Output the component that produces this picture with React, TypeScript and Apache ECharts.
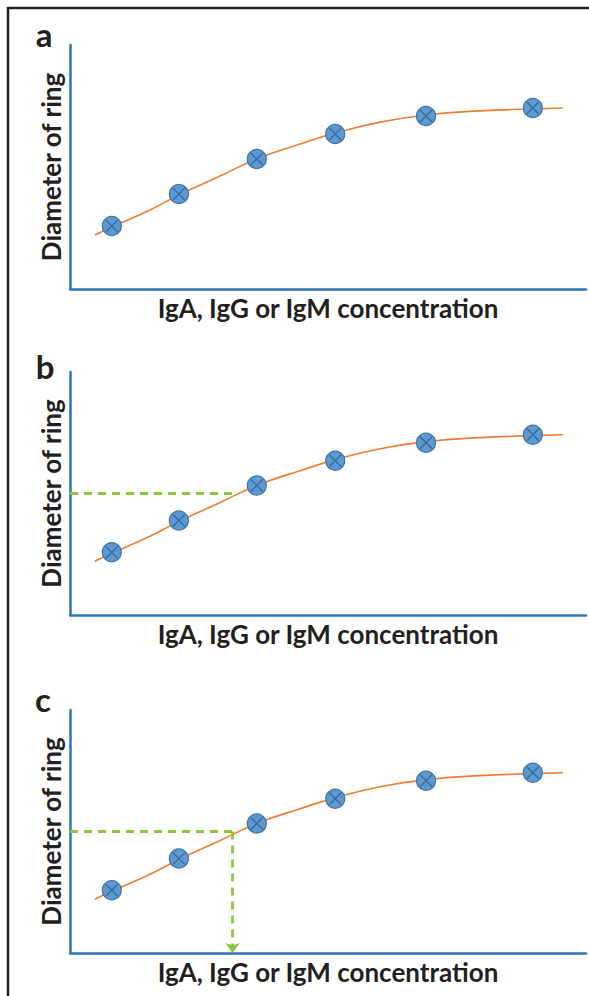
import React, { useEffect, useRef } from "react";
import * as echarts from "echarts";

// Measured points (x: concentration, y: ring diameter), arbitrary units 0-100
const markX = [8.1, 21.1, 36.2, 51.4, 69.0, 89.7];
const markY = [25.8, 38.9, 53.3, 63.5, 70.9, 74.2];

// Fitted standard curve
const curveX = [4.8, 8.1, 15.5, 21.1, 29.1, 36.2, 44.6, 51.4, 60.1, 69.0, 79.5, 89.7, 95.5];
const curveY = [22.1, 25.4, 32.4, 38.5, 46.3, 53.3, 59.4, 63.9, 68.4, 71.3, 73.0, 73.8, 74.2];

// Unknown sample reading
const guideLevel = 50;
const guideX = 31.5;

const panelLetters = ["a", "b", "c"];
const xTitle = "IgA, IgG or IgM concentration";
const yTitle = "Diameter of ring";

const FONT = "Lato, 'Open Sans', sans-serif";
const AXIS_BLUE = "#2E75B6";
const GREEN = "#8CC63F";

export default function App() {
  const ref = useRef<HTMLDivElement>(null);
  useEffect(() => {
    if (!ref.current) return;
    const chart = echarts.init(ref.current, null, { renderer: "svg" });
    const grids = [
      { left: 70, top: 45, width: 516, height: 244 },
      { left: 70, top: 372, width: 516, height: 243 },
      { left: 70, top: 710, width: 516, height: 243 },
    ];
    const xAxes = grids.map((_, i) => ({
      type: "value",
      gridIndex: i,
      min: 0,
      max: 100,
      name: xTitle,
      nameLocation: "middle",
      nameGap: 6,
      nameTextStyle: { fontFamily: FONT, fontWeight: "bold", fontSize: 26, color: "#231F20", verticalAlign: "top" },
      axisLine: { show: true, lineStyle: { color: AXIS_BLUE, width: 2.5 } },
      axisTick: { show: false },
      axisLabel: { show: false },
      splitLine: { show: false },
    }));
    const yAxes = grids.map((_, i) => ({
      type: "value",
      gridIndex: i,
      min: 0,
      max: 100,
      name: yTitle,
      nameLocation: "middle",
      nameGap: 6,
      nameTextStyle: { fontFamily: FONT, fontWeight: "bold", fontSize: 26, color: "#231F20", verticalAlign: "bottom" },
      axisLine: { show: true, lineStyle: { color: AXIS_BLUE, width: 2.5 } },
      axisTick: { show: false },
      axisLabel: { show: false },
      splitLine: { show: false },
    }));
    const curveData = curveX.map((x, i) => [x, curveY[i]]);
    const markData = markX.map((x, i) => [x, markY[i]]);
    const series: any[] = [];
    grids.forEach((_, i) => {
      const line: any = {
        type: "line",
        xAxisIndex: i,
        yAxisIndex: i,
        data: curveData,
        smooth: true,
        symbol: "none",
        lineStyle: { color: "#ED7D31", width: 1.6 },
        z: 2,
      };
      if (i > 0) {
        const mlData: any[] = [
          [
            { coord: [0, guideLevel], symbol: "none" },
            { coord: [guideX, guideLevel], symbol: "none" },
          ],
        ];
        if (i === 2) {
          mlData.push([
            { coord: [guideX, guideLevel], symbol: "none" },
            { coord: [guideX, 0], symbol: "arrow", symbolSize: [11, 10] },
          ]);
        }
        line.markLine = {
          silent: true,
          animation: false,
          label: { show: false },
          lineStyle: { color: GREEN, width: 2.8, type: [8, 6] },
          itemStyle: { color: GREEN },
          data: mlData,
        };
      }
      series.push(line);
      series.push({
        type: "scatter",
        xAxisIndex: i,
        yAxisIndex: i,
        data: markData,
        symbol: "circle",
        symbolSize: 19,
        itemStyle: { color: "#5B9BD5", borderColor: "#41719C", borderWidth: 1.2, opacity: 1 },
        z: 3,
      });
      series.push({
        type: "scatter",
        xAxisIndex: i,
        yAxisIndex: i,
        data: markData,
        symbol: "path://M0 0L10 10M10 0L0 10",
        symbolSize: 12,
        itemStyle: { color: "transparent", borderColor: "#3B6792", borderWidth: 1.3, opacity: 1 },
        z: 4,
      });
    });
    const letterPos = [
      [44, 34],
      [45, 366],
      [43, 699],
    ];
    const graphic: any[] = [
      {
        type: "rect",
        shape: { x: 8, y: 8, width: 640, height: 1040 },
        style: { fill: "none", stroke: "#1F1F1F", lineWidth: 2.5 },
        silent: true,
      },
      ...panelLetters.map((t, i) => ({
        type: "text",
        x: letterPos[i][0],
        y: letterPos[i][1],
        style: {
          text: t,
          font: `bold 33px ${FONT}`,
          fill: "#231F20",
          textAlign: "center",
          textVerticalAlign: "middle",
        },
      })),
    ];
    chart.setOption({
      animation: false,
      backgroundColor: "#ffffff",
      grid: grids,
      xAxis: xAxes,
      yAxis: yAxes,
      series,
      graphic,
    });
    return () => chart.dispose();
  }, []);
  return (
    <div
      ref={ref}
      style={{ position: "absolute", left: 0, top: 0, width: 589, height: 996 }}
    />
  );
}
